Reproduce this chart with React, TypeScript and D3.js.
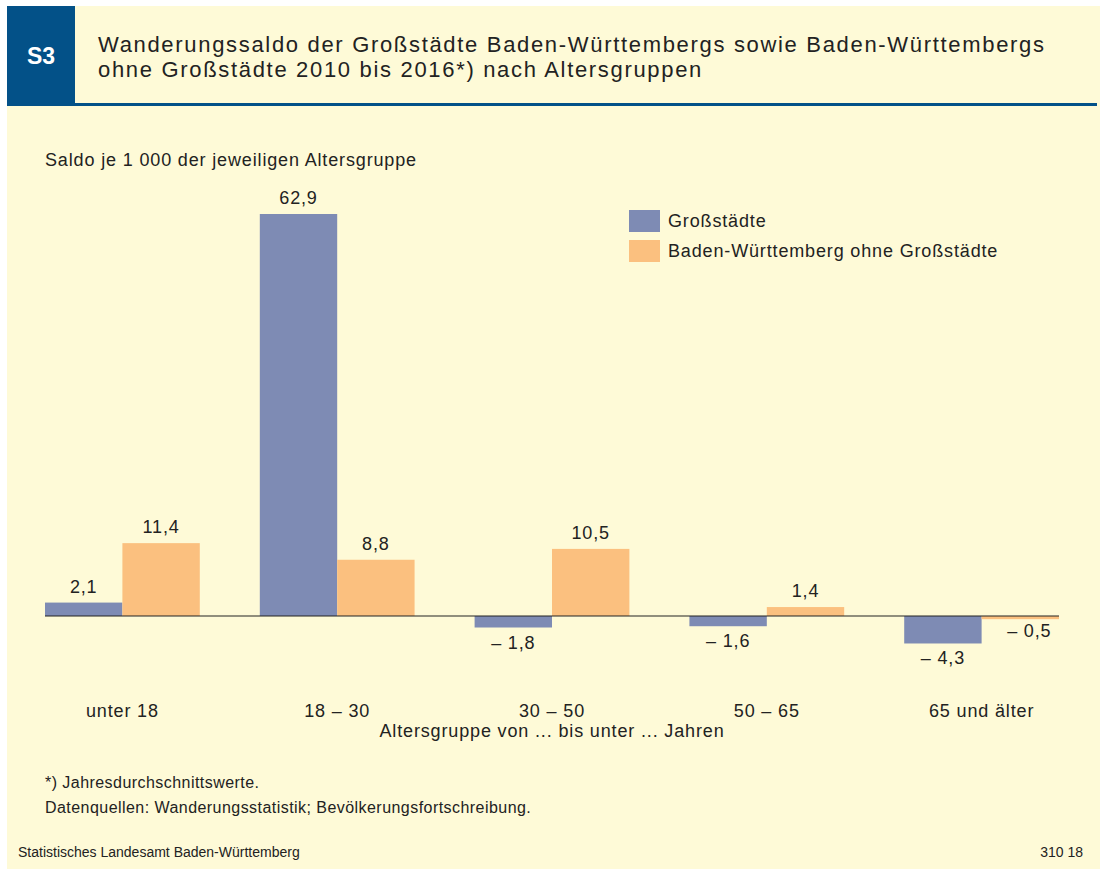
import React from "react";
import { scaleBand, scaleLinear } from "d3";

// Wanderungssaldo je 1 000 der jeweiligen Altersgruppe
const ageGroups = ["unter 18", "18 – 30", "30 – 50", "50 – 65", "65 und älter"];
const seriesNames = ["Großstädte", "Baden-Württemberg ohne Großstädte"];
const grossstaedte = [2.1, 62.9, -1.8, -1.6, -4.3];
const bwOhne = [11.4, 8.8, 10.5, 1.4, -0.5];

const W = 1100,
  H = 869,
  cream = "#fefad7",
  blueHead = "#035188",
  colors = ["#7e8bb4", "#fbc07f"],
  textCol = "#222";
const font = "'Liberation Sans', Arial, sans-serif";
const narrow = "'Liberation Sans Narrow', 'Liberation Sans', Arial, sans-serif";
const fs = 18,
  ls = 0.85;

const fmt = (v: number) => (v < 0 ? "– " : "") + Math.abs(v).toFixed(1).replace(".", ",");

export default function App() {
  const x0 = scaleBand<string>().domain(ageGroups).range([45, 1059]).paddingInner(0.2794).paddingOuter(0);
  const x1 = scaleBand<number>().domain([0, 1]).range([0, x0.bandwidth()]);
  const y = scaleLinear().domain([0, 62.9]).range([616, 214]);
  const series = [grossstaedte, bwOhne];

  return (
    <svg width={W} height={H} style={{ position: "absolute", left: 0, top: 0, display: "block" }}>
      <rect x={0} y={0} width={W} height={H} fill="#fff" />
      <rect x={7} y={6} width={W - 7} height={H - 6} fill={cream} />
      <rect x={7} y={6} width={68} height={98} fill={blueHead} />
      <rect x={7} y={103} width={1090} height={3} fill={blueHead} />
      <text x={41} y={64} textAnchor="middle" fill="#fff" fontFamily={font} fontWeight="bold" fontSize={23}>
        S3
      </text>
      <text fontFamily={font} fontSize={22} fill={textCol} letterSpacing={1.68}>
        <tspan x={98} y={52}>Wanderungssaldo der Großstädte Baden-Württembergs sowie Baden-Württembergs</tspan>
        <tspan x={98} y={77}>ohne Großstädte 2010 bis 2016*) nach Altersgruppen</tspan>
      </text>

      <text x={45} y={166} fontFamily={font} fontSize={fs} letterSpacing={ls} fill={textCol}>
        Saldo je 1 000 der jeweiligen Altersgruppe
      </text>

      {ageGroups.map((g, i) => (
        <g key={g} transform={`translate(${x0(g)},0)`}>
          {series.map((s, k) => {
            const v = s[i];
            const bx = x1(k)!;
            const top = Math.min(y(v), y(0));
            const h = Math.abs(y(v) - y(0));
            const lx = bx + x1.bandwidth() / 2;
            const isLastSmall = Math.abs(v) < 1 && v < 0;
            return (
              <g key={k}>
                <rect x={bx} y={top} width={x1.bandwidth()} height={h} fill={colors[k]} />
                <text
                  x={isLastSmall ? lx + 9 : lx}
                  y={v >= 0 ? y(v) - 10 : isLastSmall ? y(v) + 18 : y(v) + 21}
                  textAnchor="middle"
                  fontFamily={font}
                  fontSize={fs}
                  letterSpacing={ls}
                  fill={textCol}
                >
                  {fmt(v)}
                </text>
              </g>
            );
          })}
          <text x={x0.bandwidth() / 2} y={717} textAnchor="middle" fontFamily={font} fontSize={fs} letterSpacing={ls} fill={textCol}>
            {g}
          </text>
        </g>
      ))}
      <line x1={45} x2={1059} y1={y(0)} y2={y(0)} stroke="#222" strokeWidth={1.2} />

      <text x={552} y={737} textAnchor="middle" fontFamily={font} fontSize={fs} letterSpacing={ls} fill={textCol}>
        Altersgruppe von ... bis unter ... Jahren
      </text>

      {seriesNames.map((n, k) => (
        <g key={n}>
          <rect x={629} y={210 + k * 30} width={31} height={22} fill={colors[k]} />
          <text x={668} y={227 + k * 30} fontFamily={font} fontSize={fs} letterSpacing={ls} fill={textCol}>
            {n}
          </text>
        </g>
      ))}

      <text x={45} y={788} fontFamily={narrow} fontSize={16} letterSpacing={0.45} fill={textCol}>
        *) Jahresdurchschnittswerte.
      </text>
      <text x={45} y={813} fontFamily={narrow} fontSize={16} letterSpacing={0.45} fill={textCol}>
        Datenquellen: Wanderungsstatistik; Bevölkerungsfortschreibung.
      </text>
      <text x={18} y={857} fontFamily={narrow} fontSize={14} fill={textCol}>
        Statistisches Landesamt Baden-Württemberg
      </text>
      <text x={1083} y={857} textAnchor="end" fontFamily={narrow} fontSize={14} fill={textCol}>
        310 18
      </text>
    </svg>
  );
}
